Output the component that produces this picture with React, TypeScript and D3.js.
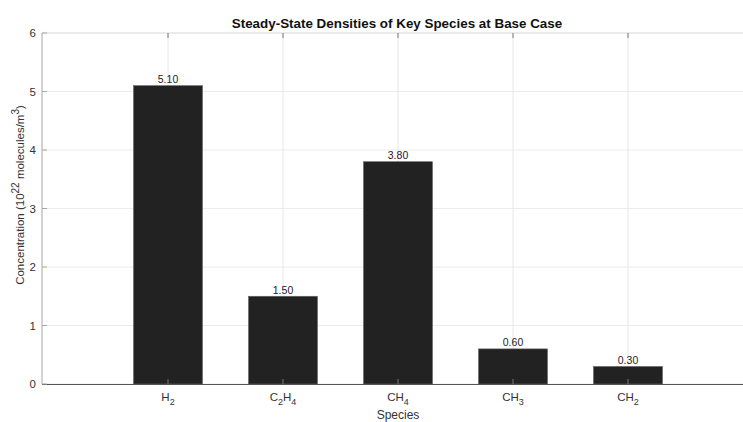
import React from "react";
import * as d3 from "d3";

const categories = ["H2", "C2H4", "CH4", "CH3", "CH2"];
const labelParts: [string, string][][] = [
  [["H", ""], ["", "2"]],
  [["C", ""], ["", "2"], ["H", ""], ["", "4"]],
  [["CH", ""], ["", "4"]],
  [["CH", ""], ["", "3"]],
  [["CH", ""], ["", "2"]],
];
const values = [5.1, 1.5, 3.8, 0.6, 0.3];
const yTicks = [0, 1, 2, 3, 4, 5, 6];

const W = 743;
const H = 422;
const left = 42;
const right = 743;
const top = 33;
const bottom = 384;

export default function App() {
  const x = d3.scaleLinear().domain([1, 5]).range([168, 628]);
  const y = d3.scaleLinear().domain([0, 6]).range([bottom, top]);
  const bw = (x(2) - x(1)) * 0.6;
  const font = "Liberation Sans, Arial, Helvetica, sans-serif";
  return (
    <svg
      width={W}
      height={H}
      style={{ position: "absolute", left: 0, top: 0, background: "#fff" }}
      fontFamily={font}
    >
      <rect x={0} y={0} width={W} height={H} fill="#fff" />
      {/* grid */}
      {yTicks.map((t) => (
        <line key={"gy" + t} x1={left} x2={right} y1={y(t)} y2={y(t)} stroke="#ebebeb" strokeWidth={1} />
      ))}
      {categories.map((c, i) => (
        <line key={"gx" + c} x1={x(i + 1)} x2={x(i + 1)} y1={top} y2={bottom} stroke="#e6e6e6" strokeWidth={1} />
      ))}
      <line x1={left} x2={right} y1={top} y2={top} stroke="#e0e0e0" strokeWidth={1} />
      {/* bars */}
      {values.map((v, i) => (
        <g key={"b" + i}>
          <rect
            x={x(i + 1) - bw / 2}
            y={y(v)}
            width={bw}
            height={y(0) - y(v)}
            fill="#222222"
            stroke="#666"
            strokeWidth={0.6}
          />
          <text x={x(i + 1)} y={y(v) - 2.5} textAnchor="middle" fontSize={10.5} fill="#222">
            {v.toFixed(2)}
          </text>
        </g>
      ))}
      {/* axes */}
      <line x1={left} x2={left} y1={top} y2={bottom} stroke="#a6a6a6" strokeWidth={1} />
      <line x1={left} x2={right} y1={bottom + 0.5} y2={bottom + 0.5} stroke="#555" strokeWidth={1} />
      {yTicks.map((t) => (
        <g key={"ty" + t}>
          <line x1={left} x2={left + 5} y1={y(t)} y2={y(t)} stroke="#a6a6a6" />
          <text x={left - 6} y={y(t) + 4} textAnchor="end" fontSize={11.5} fill="#333">
            {t}
          </text>
        </g>
      ))}
      {categories.map((c, i) => (
        <g key={"tx" + c}>
          <line x1={x(i + 1)} x2={x(i + 1)} y1={top} y2={top + 5} stroke="#777" />
          <line x1={x(i + 1)} x2={x(i + 1)} y1={bottom} y2={bottom - 5} stroke="#777" />
          <text x={x(i + 1)} y={401} textAnchor="middle" fontSize={11.5} fill="#333">
            {labelParts[i].map(([n, s], j) =>
              s ? (
                <tspan key={j} fontSize={9} dy={4}>
                  {s}
                </tspan>
              ) : (
                <tspan key={j} dy={j === 0 ? 0 : -4}>
                  {n}
                </tspan>
              )
            )}
          </text>
        </g>
      ))}
      <text x={398} y={419} textAnchor="middle" fontSize={12} fill="#333">
        Species
      </text>
      <text
        transform={`translate(24, 195) rotate(-90)`}
        textAnchor="middle"
        fontSize={11.5}
        fill="#333"
      >
        Concentration (10
        <tspan fontSize={10} dy={-5}>22</tspan>
        <tspan dy={5}> molecules/m</tspan>
        <tspan fontSize={10} dy={-5}>3</tspan>
        <tspan dy={5}>)</tspan>
      </text>
      <text x={397} y={28} textAnchor="middle" fontSize={13.4} fontWeight="bold" fill="#111">
        Steady-State Densities of Key Species at Base Case
      </text>
    </svg>
  );
}
